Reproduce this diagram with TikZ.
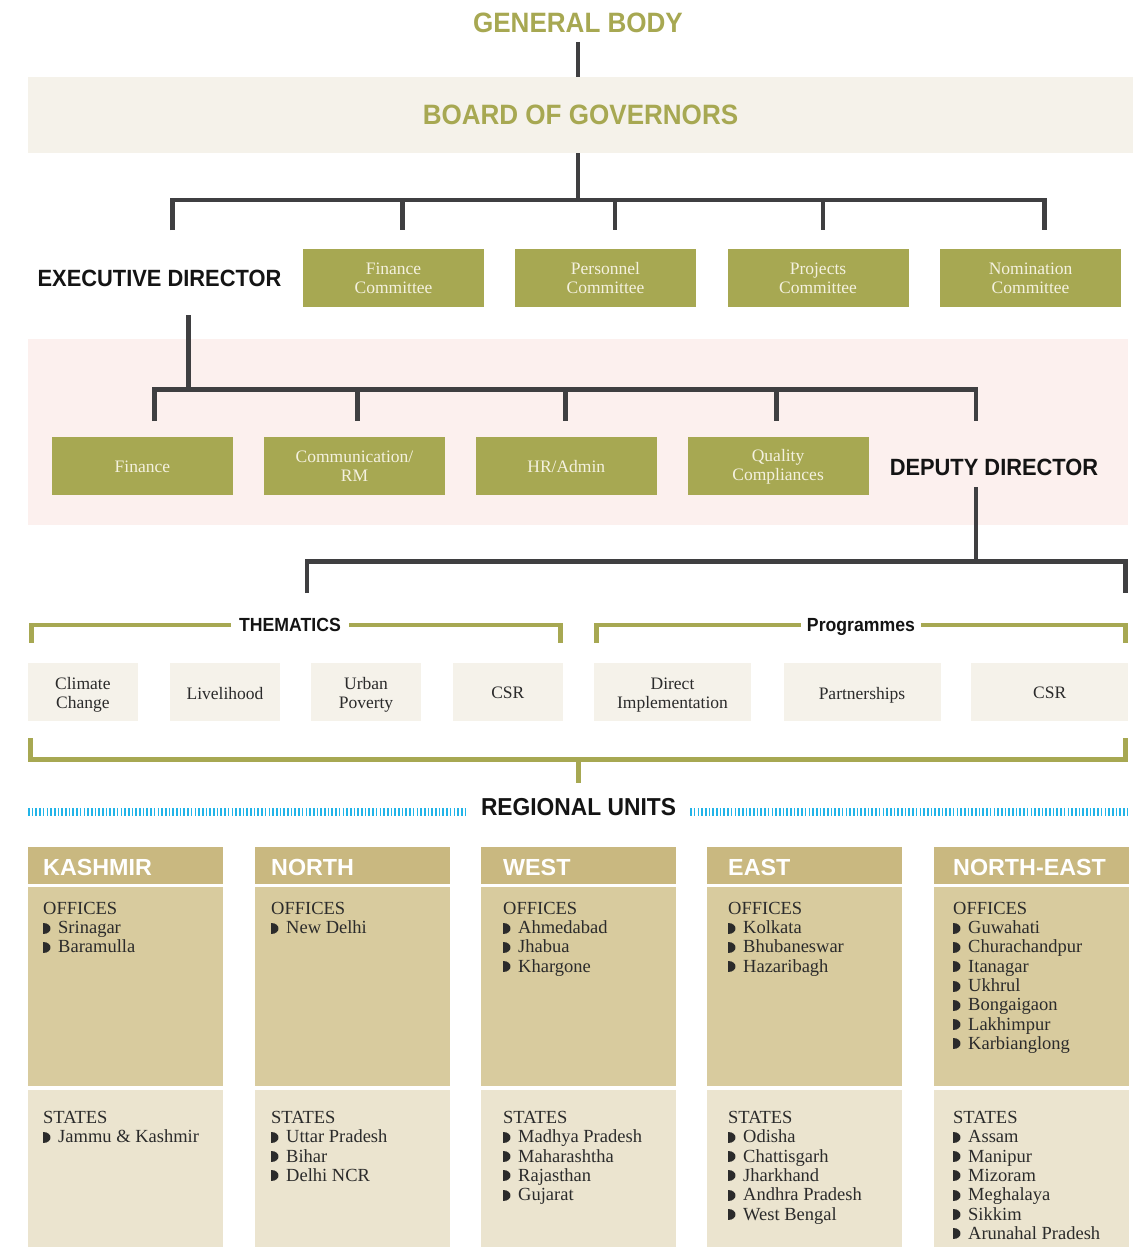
\documentclass[tikz,border=0pt]{standalone}
\usepackage{fontspec}
\setmainfont{Liberation Serif}
\newfontfamily\headf[FakeStretch=0.93]{Liberation Sans}
\newfontfamily\regf{Liberation Sans}
\definecolor{ol}{HTML}{A7A852}
\definecolor{bgc}{HTML}{F5F2EA}
\definecolor{pk}{HTML}{FCF0EE}
\definecolor{lk}{HTML}{3F3F41}
\definecolor{ct}{HTML}{F4F1DF}
\definecolor{ink}{HTML}{2B2B2B}
\definecolor{hdc}{HTML}{C9B880}
\definecolor{ofc}{HTML}{D8CB9E}
\definecolor{stc}{HTML}{EBE4CF}
\definecolor{blc}{HTML}{22B4E8}
\tikzset{
  dk/.style={draw=lk, line width=4.6pt},
  olv/.style={draw=ol, line width=4.6pt},
  blu/.style={draw=blc, line width=8pt, dash pattern=on 1.6pt off 2.1pt},
  cbox/.style={rectangle, fill=ol, text=ct, minimum width=181pt, minimum height=58pt, inner sep=0pt, align=center, font=\fontsize{17.5}{19}\selectfont},
  tbox/.style={rectangle, fill=bgc, minimum height=58pt, inner sep=0pt},
  ttxt/.style={text=ink, inner sep=0pt, align=center, font=\fontsize{17.5}{19}\selectfont},
  big/.style={font=\headf\bfseries\fontsize{28}{30}\selectfont, text=ol, inner sep=0pt},
  dir/.style={font=\headf\bfseries\fontsize{23.5}{26}\selectfont, text=black!92, inner sep=0pt},
  sub/.style={font=\headf\bfseries\fontsize{19}{22}\selectfont, text=black!92, inner sep=0pt},
  rh/.style={rectangle, fill=hdc, minimum width=195pt, minimum height=37pt, inner sep=0pt},
  ro/.style={rectangle, fill=ofc, minimum width=195pt, minimum height=198.7pt, inner sep=0pt},
  rs/.style={rectangle, fill=stc, minimum width=195pt, minimum height=157pt, inner sep=0pt},
  rhl/.style={font=\regf\bfseries\fontsize{23.3}{26}\selectfont, text=white, inner sep=0pt, anchor=base west},
  itm/.style={font=\fontsize{18.5}{20}\selectfont, text=ink, inner sep=0pt, anchor=base west},
}
\newcommand\bulist[4]{%
  \foreach \itx [count=\kk] in {#4}{%
    \fill[ink] (#2-0.5,#3+19.3*\kk-11) .. controls (#2+9.6,#3+19.3*\kk-11) and (#2+9.6,#3+19.3*\kk) .. (#2-0.5,#3+19.3*\kk) -- cycle;
    \node[itm] (#1-\kk) at (#2+15,#3+19.3*\kk) {\itx};
  }}
\begin{document}
\begin{tikzpicture}[x=1pt,y=-1pt]
\useasboundingbox (0,0) rectangle (1141,1247);
\fill[white] (0,0) rectangle (1141,1247);

% backgrounds
\node[rectangle, fill=pk, minimum width=1100.3pt, minimum height=185.7pt, inner sep=0pt] (pinkbg) at (578.15,431.85) {};

% top
\node[big] (gb) at (578,23) {GENERAL BODY};
\node[big, rectangle, fill=bgc, minimum width=1105pt, minimum height=76pt] (bog) at (580.5,115) {BOARD OF GOVERNORS};
\coordinate (gbS) at (578,42);
\draw[dk] (gbS) -- (gbS |- bog.north);
\coordinate (b1) at (578,200);
\draw[dk] (b1 |- bog.south) -- (b1);
\coordinate (b1L) at (172.5,230);
\coordinate (b1R) at (1044.5,230);
\draw[dk, line join=miter] (b1L) -- (b1L |- b1) -- (b1R |- b1) -- (b1R);
\foreach \xx [count=\kk] in {402.5,615,823}{
  \coordinate (b1d\kk) at (\xx,230);
  \draw[dk] (b1d\kk |- b1) -- (b1d\kk);
}

% committees
\node[dir] (ed) at (159.5,278) {EXECUTIVE DIRECTOR};
\node[cbox] (fc) at (393.5,278.2) {Finance\\Committee};
\node[cbox] (pc) at (605.5,278.2) {Personnel\\Committee};
\node[cbox] (prc) at (818,278.2) {Projects\\Committee};
\node[cbox] (nc) at (1030.6,278.2) {Nomination\\Committee};

% ED level
\coordinate (edS) at (188.5,315);
\coordinate (b2) at (188.5,389.5);
\draw[dk] (edS) -- (b2);
\coordinate (b2L) at (154.3,421);
\coordinate (b2R) at (976,421);
\draw[dk, line join=miter] (b2L) -- (b2L |- b2) -- (b2R |- b2) -- (b2R);
\foreach \xx [count=\kk] in {357.4,565.6,776.7}{
  \coordinate (b2d\kk) at (\xx,421);
  \draw[dk] (b2d\kk |- b2) -- (b2d\kk);
}
\node[cbox] (fin) at (142.4,466.3) {Finance};
\node[cbox] (com) at (354.5,466.3) {Communication/\\RM};
\node[cbox] (hr) at (566.3,466.3) {HR/Admin};
\node[cbox] (qc) at (778.1,466.3) {Quality\\Compliances};
\node[dir] (dd) at (994,467) {DEPUTY DIRECTOR};

% DD level
\coordinate (ddS) at (976,487);
\coordinate (b3) at (976,561.3);
\draw[dk] (ddS) -- (b3);
\coordinate (b3L) at (307,593);
\coordinate (b3R) at (1125.5,593);
\draw[dk, line join=miter] (b3L) -- (b3L |- b3) -- (b3R |- b3) -- (b3R);

% thematics bracket
\node[sub, inner xsep=8pt] (them) at (290,625) {THEMATICS};
\coordinate (thTL) at (31.5,625);
\coordinate (thL) at (31.5,643);
\coordinate (thR) at (560.3,643);
\draw[olv, line join=miter] (them.west |- thTL) -- (thTL) -- (thL);
\draw[olv, line join=miter] (them.east |- thTL) -- (thR |- thTL) -- (thR);
\node[sub, inner xsep=0pt, anchor=base] (prog) at (861,631.7) {Programmes};
\coordinate (pgTL) at (596.5,625);
\coordinate (pgL) at (596.5,643);
\coordinate (pgR) at (1125.5,643);
\draw[olv, line join=miter] ([xshift=-6pt]prog.west |- pgTL) -- (pgTL) -- (pgL);
\draw[olv, line join=miter] ([xshift=6pt]prog.east |- pgTL) -- (pgR |- pgTL) -- (pgR);

% thematic boxes
\node[tbox, minimum width=110pt] (cc) at (82.9,691.7) {};
\node[tbox, minimum width=110pt] (lh) at (225,691.7) {};
\node[tbox, minimum width=110pt] (up) at (366,691.7) {};
\node[tbox, minimum width=110pt] (csr1) at (507.8,691.7) {};
\node[tbox, minimum width=157pt] (di) at (672.5,691.7) {};
\node[tbox, minimum width=157pt] (ps) at (862,691.7) {};
\node[tbox, minimum width=157pt] (csr2) at (1049.7,691.7) {};
\node[ttxt] (cc-t) at ([yshift=-3pt]cc.center) {Climate\\Change};
\node[ttxt] (lh-t) at ([yshift=-1.5pt]lh.center) {Livelihood};
\node[ttxt] (up-t) at ([yshift=-3pt]up.center) {Urban\\Poverty};
\node[ttxt] (csr1-t) at ([yshift=-1.5pt]csr1.center) {CSR};
\node[ttxt] (di-t) at ([yshift=-3pt]di.center) {Direct\\Implementation};
\node[ttxt] (ps-t) at ([yshift=-4pt]ps.center) {Partnerships};
\node[ttxt] (csr2-t) at ([yshift=-1.5pt]csr2.center) {CSR};

% bottom bracket
\coordinate (bbL) at (30.5,738);
\coordinate (bbR) at (1125.5,738);
\coordinate (bbM) at (578.4,759.3);
\coordinate (bbD) at (578.4,783);
\draw[olv, line join=miter] (bbL) -- (bbL |- bbM) -- (bbR |- bbM) -- (bbR);
\draw[olv] (bbM) -- (bbD);

% regional units
\node[dir, font=\headf\bfseries\fontsize{24.5}{27}\selectfont, inner xsep=14pt] (ru) at (578.5,806.7) {REGIONAL UNITS};
\coordinate (blL) at (28,812);
\coordinate (blR) at (1128,812);
\draw[blu] (blL) -- (blL -| ru.west);
\draw[blu] (ru.east |- blR) -- (blR);

\foreach \ii/\xo/\tpos/\nm in {1/28/43/KASHMIR, 2/255/271/NORTH, 3/481/503/WEST, 4/707/728/EAST, 5/934/953/NORTH-EAST}{
  \node[rh] (rh\ii) at (\xo+97.5,865.5) {};
  \node[ro] (ro\ii) at (\xo+97.5,986.35) {};
  \node[rs] (rs\ii) at (\xo+97.5,1168.5) {};
  \node[rhl] (rl\ii) at (\tpos,875) {\nm};
  \node[itm] (oh\ii) at (\tpos,914.3) {OFFICES};
  \node[itm] (sh\ii) at (\tpos,1123.5) {STATES};
}
\bulist{o1}{43}{914.3}{Srinagar,Baramulla}
\bulist{s1}{43}{1123.5}{Jammu \& Kashmir}
\bulist{o2}{271}{914.3}{New Delhi}
\bulist{s2}{271}{1123.5}{Uttar Pradesh,Bihar,Delhi NCR}
\bulist{o3}{503}{914.3}{Ahmedabad,Jhabua,Khargone}
\bulist{s3}{503}{1123.5}{Madhya Pradesh,Maharashtha,Rajasthan,Gujarat}
\bulist{o4}{728}{914.3}{Kolkata,Bhubaneswar,Hazaribagh}
\bulist{s4}{728}{1123.5}{Odisha,Chattisgarh,Jharkhand,Andhra Pradesh,West Bengal}
\bulist{o5}{953}{914.3}{Guwahati,Churachandpur,Itanagar,Ukhrul,Bongaigaon,Lakhimpur,Karbianglong}
\bulist{s5}{953}{1123.5}{Assam,Manipur,Mizoram,Meghalaya,Sikkim,Arunahal Pradesh}
\end{tikzpicture}
\end{document}
